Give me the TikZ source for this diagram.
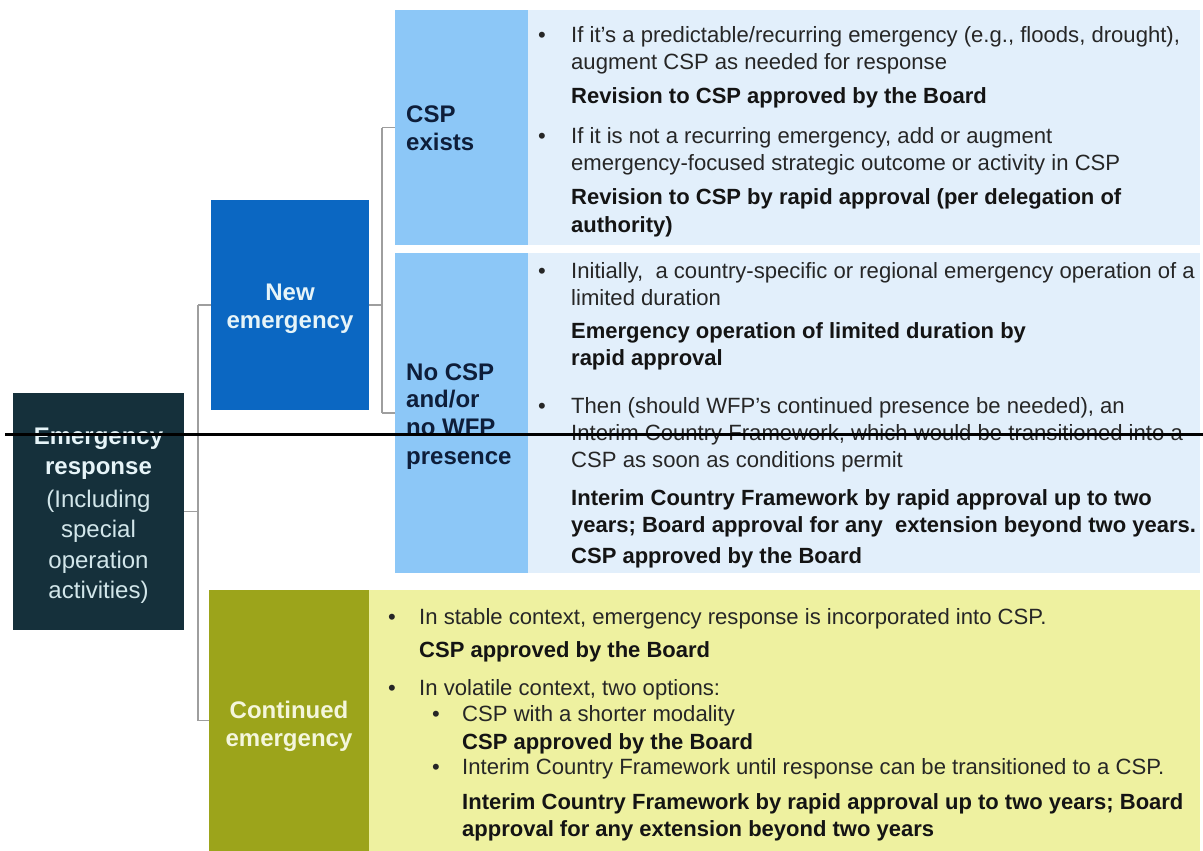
\documentclass[tikz,border=0pt]{standalone}
\usepackage{fontspec}
\setmainfont{Liberation Sans}
\definecolor{darkteal}{HTML}{15303B}
\definecolor{newblue}{HTML}{0B67C2}
\definecolor{lightblue}{HTML}{8CC7F7}
\definecolor{palepanel}{HTML}{E2EFFB}
\definecolor{olive}{HTML}{9CA41B}
\definecolor{paleyellow}{HTML}{EEF1A0}
\definecolor{conngray}{HTML}{9E9E9E}
\definecolor{navytxt}{HTML}{0E1E3A}
\definecolor{bodytxt}{HTML}{262626}
\definecolor{boldtxt}{HTML}{141414}
\definecolor{whitecyan}{HTML}{E6F4F8}
\definecolor{greycyan}{HTML}{D2E6EA}
\definecolor{creamtxt}{HTML}{F4F6DC}
\tikzset{
  box/.style={draw=none, inner sep=0pt, outer sep=0pt, anchor=north west},
  conn/.style={draw=conngray, line width=1.3pt},
  lbl/.style={inner sep=0pt, anchor=base, font=\fontsize{24}{28}\selectfont},
  lblL/.style={inner sep=0pt, anchor=base west, font=\fontsize{24}{28}\selectfont\bfseries, text=navytxt},
  txt/.style={inner sep=0pt, anchor=base west, font=\fontsize{22.1}{27}\selectfont, text=bodytxt},
  btxt/.style={inner sep=0pt, anchor=base west, font=\fontsize{22}{27}\selectfont\bfseries, text=boldtxt},
  bul/.style={inner sep=0pt, anchor=base west, font=\fontsize{22}{27}\selectfont, text=bodytxt},
}
\begin{document}
\begin{tikzpicture}[x=1pt,y=-1pt]
\useasboundingbox (0,0) rectangle (1203,851);
\fill[white] (0,0) rectangle (1203,851);

% boxes
\node[box, fill=darkteal, minimum width=171pt, minimum height=237pt] (er) at (13,393) {};
\node[box, fill=newblue, minimum width=158pt, minimum height=210pt] (ne) at (211,200) {};
\node[box, fill=lightblue, minimum width=133pt, minimum height=235pt] (cspl) at (395,10) {};
\node[box, fill=palepanel, minimum width=672pt, minimum height=235pt] (cspp) at (528,10) {};
\node[box, fill=lightblue, minimum width=133pt, minimum height=320pt] (nol) at (395,253) {};
\node[box, fill=palepanel, minimum width=672pt, minimum height=320pt] (nop) at (528,253) {};
\node[box, fill=olive, minimum width=160pt, minimum height=261pt] (ce) at (209,590) {};
\node[box, fill=paleyellow, minimum width=831pt, minimum height=261pt] (cep) at (369,590) {};

% connectors
\coordinate (t1) at (198,0);
\coordinate (t2) at (382,0);
\draw[conn] (er.east) -- (er.east -| t1);
\draw[conn] (ne.west -| t1) -- (ce.west -| t1);
\draw[conn] (ne.west -| t1) -- (ne.west);
\draw[conn] (ce.west -| t1) -- (ce.west);
\draw[conn] (ne.east) -- (ne.east -| t2);
\draw[conn] (cspl.west -| t2) -- (nol.west -| t2);
\draw[conn] (cspl.west -| t2) -- (cspl.west);
\draw[conn] (nol.west -| t2) -- (nol.west);

% labels: emergency response
\node[lbl, font=\fontsize{24}{28}\selectfont\bfseries, text=whitecyan] (er1) at (98.5,444) {Emergency};
\node[lbl, font=\fontsize{24}{28}\selectfont\bfseries, text=whitecyan] (er2) at (98.5,474) {response};
\node[lbl, text=greycyan] (er3) at (98.5,507) {(Including};
\node[lbl, text=greycyan] (er4) at (98.5,537) {special};
\node[lbl, text=greycyan] (er5) at (98.5,568) {operation};
\node[lbl, text=greycyan] (er6) at (98.5,598) {activities)};

% new emergency
\node[lbl, font=\fontsize{24}{28}\selectfont\bfseries, text=whitecyan] (ne1) at (290,300) {New};
\node[lbl, font=\fontsize{24}{28}\selectfont\bfseries, text=whitecyan] (ne2) at (290,328) {emergency};

% CSP exists
\node[lblL] (cs1) at (406,122) {CSP};
\node[lblL] (cs2) at (406,150) {exists};

% No CSP
\node[lblL] (nc1) at (406,380) {No CSP};
\node[lblL] (nc2) at (406,407) {and/or};
\node[lblL] (nc3) at (406,435) {no WFP};
\node[lblL] (nc4) at (406,464) {presence};

% continued emergency
\node[lbl, font=\fontsize{24}{28}\selectfont\bfseries, text=creamtxt] (ce1) at (289,718) {Continued};
\node[lbl, font=\fontsize{24}{28}\selectfont\bfseries, text=creamtxt] (ce2) at (289,746) {emergency};

% panel 1
\node[bul] (p1b1) at (538,43) {\textbullet};
\node[txt] (p1l1) at (571,43) {If it’s a predictable/recurring emergency (e.g., floods, drought),};
\node[txt] (p1l2) at (571,70) {augment CSP as needed for response};
\node[btxt] (p1l3) at (571,103) {Revision to CSP approved by the Board};
\node[bul] (p1b2) at (538,143) {\textbullet};
\node[txt] (p1l4) at (571,143) {If it is not a recurring emergency, add or augment};
\node[txt] (p1l5) at (571,170) {emergency-focused strategic outcome or activity in CSP};
\node[btxt] (p1l6) at (571,204) {Revision to CSP by rapid approval (per delegation of};
\node[btxt] (p1l7) at (571,232) {authority)};

% panel 2
\node[bul] (p2b1) at (538,278) {\textbullet};
\node[txt] (p2l1) at (571,278) {Initially,\ \ a country-specific or regional emergency operation of a};
\node[txt] (p2l2) at (571,305) {limited duration};
\node[btxt] (p2l3) at (571,338) {Emergency operation of limited duration by};
\node[btxt] (p2l4) at (571,365) {rapid approval};
\node[bul] (p2b2) at (538,413) {\textbullet};
\node[txt] (p2l5) at (571,413) {Then (should WFP’s continued presence be needed), an};
\node[txt] (p2l6) at (571,440) {Interim Country Framework, which would be transitioned into a};
\node[txt] (p2l7) at (571,467) {CSP as soon as conditions permit};
\node[btxt] (p2l8) at (571,505) {Interim Country Framework by rapid approval up to two};
\node[btxt] (p2l9) at (571,532) {years; Board approval for any\ \ extension beyond two years.};
\node[btxt] (p2l10) at (571,563) {CSP approved by the Board};

% panel 3
\node[bul] (p3b1) at (388,624) {\textbullet};
\node[txt] (p3l1) at (419,624) {In stable context, emergency response is incorporated into CSP.};
\node[btxt] (p3l2) at (419,657) {CSP approved by the Board};
\node[bul] (p3b2) at (388,695) {\textbullet};
\node[txt] (p3l3) at (419,695) {In volatile context, two options:};
\node[bul] (p3b3) at (432,721) {\textbullet};
\node[txt] (p3l4) at (462,721) {CSP with a shorter modality};
\node[btxt] (p3l5) at (462,749) {CSP approved by the Board};
\node[bul] (p3b4) at (432,774) {\textbullet};
\node[txt] (p3l6) at (462,774) {Interim Country Framework until response can be transitioned to a CSP.};
\node[btxt] (p3l7) at (462,809) {Interim Country Framework by rapid approval up to two years; Board};
\node[btxt] (p3l8) at (462,836) {approval for any extension beyond two years};

% horizontal black stroke across the picture
\coordinate (artL) at (5,434);
\coordinate (artR) at (1203,434);
\draw[line width=3pt, black] (artL) -- (artR);
\end{tikzpicture}
\end{document}
